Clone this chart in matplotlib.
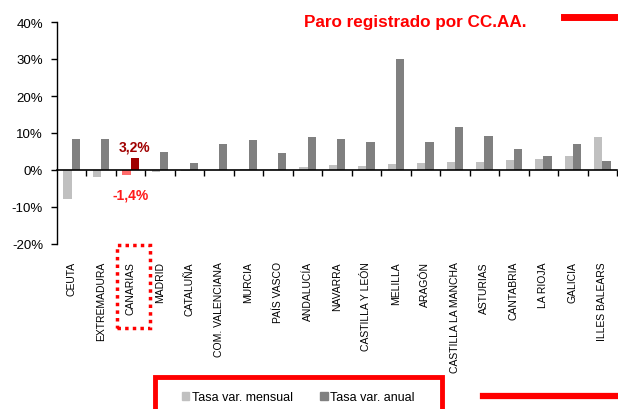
import numpy as np
import matplotlib
matplotlib.use("Agg")
from matplotlib import pyplot as plt
from matplotlib.patches import Rectangle
from matplotlib.lines import Line2D
from matplotlib.transforms import blended_transform_factory

plt.rcParams.update({
    "font.family": ["Liberation Sans", "DejaVu Sans"],
    "font.size": 8,
    "axes.unicode_minus": False,
})

regiones = ["CEUTA", "EXTREMADURA", "CANARIAS", "MADRID", "CATALUÑA",
            "COM. VALENCIANA", "MURCIA", "PAÍS VASCO", "ANDALUCÍA", "NAVARRA",
            "CASTILLA Y LEÓN", "MELILLA", "ARAGÓN", "CASTILLA LA MANCHA",
            "ASTURIAS", "CANTABRIA", "LA RIOJA", "GALICIA", "ILLES BALEARS"]
mensual = [-7.9, -1.9, -1.4, -0.5, -0.3, 0.1, 0.3, 0.4, 0.9, 1.3,
           1.2, 1.5, 1.8, 2.1, 2.2, 2.7, 3.1, 3.7, 8.8]
anual = [8.4, 8.5, 3.2, 4.8, 1.9, 7.1, 8.2, 4.6, 8.8, 8.4,
         7.7, 30.0, 7.6, 11.7, 9.2, 5.6, 3.8, 7.0, 2.5]
destacada = "CANARIAS"

W, H = 618, 410
fig = plt.figure(figsize=(W / 100, H / 100), dpi=100)
ax = fig.add_axes([57 / W, 165 / H, 560 / W, 222 / H])

x = np.arange(len(regiones))
bw = 0.28
c_men = ["#ff6b6b" if r == destacada else "#c0c0c0" for r in regiones]
c_anu = ["#a00000" if r == destacada else "#808080" for r in regiones]
ax.bar(x - bw / 2, mensual, bw, color=c_men, label="Tasa var. mensual")
ax.bar(x + bw / 2, anual, bw, color=c_anu, label="Tasa var. anual")

i = regiones.index(destacada)
ax.text(x[i] + bw / 2, anual[i] + 1.2, "3,2%", color="#a00000",
        fontsize=10, fontweight="bold", ha="center", va="bottom")
ax.text(x[i], mensual[i] - 3.2, "-1,4%", color="#ff1a1a",
        fontsize=10, fontweight="bold", ha="center", va="top")

ax.set_xlim(-0.5, len(regiones) - 0.5)
ax.set_ylim(-20, 40)
ax.set_yticks(np.arange(-20, 41, 10))
ax.set_yticklabels([f"{v}%" for v in range(-20, 41, 10)], fontsize=9.5)
ax.tick_params(axis="y", length=4, width=1, direction="out", pad=6)

for s in ["top", "right"]:
    ax.spines[s].set_visible(False)
ax.spines["left"].set_linewidth(1)
ax.spines["bottom"].set_position(("data", 0))
ax.spines["bottom"].set_linewidth(1.2)
ax.set_xticks(x + 0.5)
ax.set_xticklabels([])
ax.tick_params(axis="x", length=4, width=1, direction="out")

tr = blended_transform_factory(ax.transData, ax.transAxes)
for xi, r in zip(x, regiones):
    ax.text(xi, -0.077, r, transform=tr, rotation=90, ha="center", va="top",
            fontsize=7.5)

# recuadro punteado en CANARIAS
fig.patches.append(Rectangle((117 / W, (H - 329) / H), 33 / W, 83 / H,
                             transform=fig.transFigure, fill=False,
                             edgecolor="red", linewidth=2.5,
                             linestyle=(0, (1, 1.2))))

fig.text(415 / W, (H - 22) / H, "Paro registrado por CC.AA.", color="red",
         fontsize=12.3, fontweight="bold", ha="center", va="center")
fig.add_artist(Line2D([564 / W, 1], [(H - 17.5) / H] * 2, color="red",
                      linewidth=5, transform=fig.transFigure))
fig.add_artist(Line2D([483 / W, 1], [(H - 397) / H] * 2, color="red",
                      linewidth=4.5, transform=fig.transFigure))
fig.patches.append(Rectangle((155 / W, -10 / H), 287 / W, (H - 378 + 10) / H,
                             transform=fig.transFigure, fill=False,
                             edgecolor="red", linewidth=3.5))

h = [Rectangle((0, 0), 1, 1, color="#c0c0c0"),
     Rectangle((0, 0), 1, 1, color="#808080")]
fig.legend(h, ["Tasa var. mensual", "Tasa var. anual"], loc="center",
           bbox_to_anchor=(298 / W, (H - 398) / H), ncol=2, frameon=False,
           fontsize=9, handlelength=0.6, handleheight=0.6, handletextpad=0.2,
           columnspacing=2.2)

fig.savefig("out.png", dpi=100)
